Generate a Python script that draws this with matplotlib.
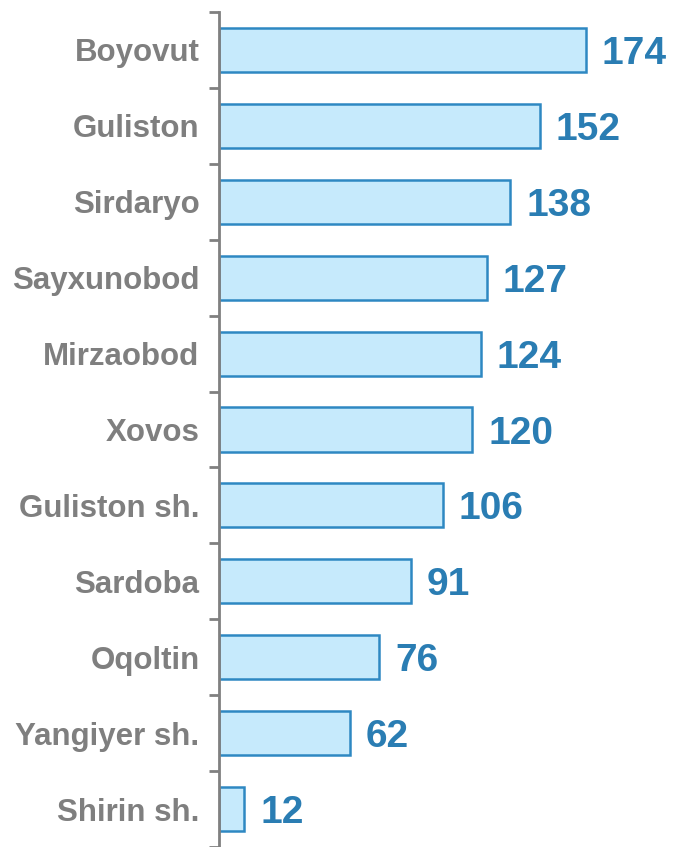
import matplotlib
matplotlib.use("Agg")
import matplotlib.pyplot as plt
import numpy as np

categories = ["Boyovut", "Guliston", "Sirdaryo", "Sayxunobod", "Mirzaobod", "Xovos",
              "Guliston sh.", "Sardoba", "Oqoltin", "Yangiyer sh.", "Shirin sh."]
values = [174, 152, 138, 127, 124, 120, 106, 91, 76, 62, 12]

plt.rcParams['font.family'] = ['Liberation Sans', 'DejaVu Sans']

W, H = 674, 847
fig = plt.figure(figsize=(W / 100, H / 100), dpi=100)
left_px, top_px = 219, 12
ax = fig.add_axes([left_px / W, 0, 1 - left_px / W, (H - top_px) / H])

n = len(categories)
y = np.arange(n)
ax.barh(y, values, height=0.58, color="#C6EAFC", edgecolor="#2E88C2", linewidth=1.8, zorder=2)

px_per_unit = (586 - 219) / 174.0
ax.set_xlim(0, (W - left_px) / px_per_unit)
ax.set_ylim(n - 0.5, -0.5)

for yi, v in zip(y, values):
    ax.annotate(str(v), xy=(v, yi), xytext=(16, 0), textcoords="offset pixels",
                va="center_baseline", ha="left", fontsize=28, fontweight="bold", color="#2A7DB3")

ax.set_yticks(y)
ax.set_yticklabels(categories, fontsize=22.5, fontweight="bold", color="#7F7F7F")
ax.tick_params(axis="y", which="major", length=0, pad=14)
ax.set_yticks(np.arange(-0.5, n + 0.5, 1), minor=True)
ax.tick_params(axis="y", which="minor", length=7.5, width=2, color="#808080")
ax.set_xticks([])

for s in ["top", "right", "bottom"]:
    ax.spines[s].set_visible(False)
ax.spines["left"].set_color("#808080")
ax.spines["left"].set_linewidth(2)
ax.patch.set_alpha(0)

fig.savefig("out.png", dpi=100)
